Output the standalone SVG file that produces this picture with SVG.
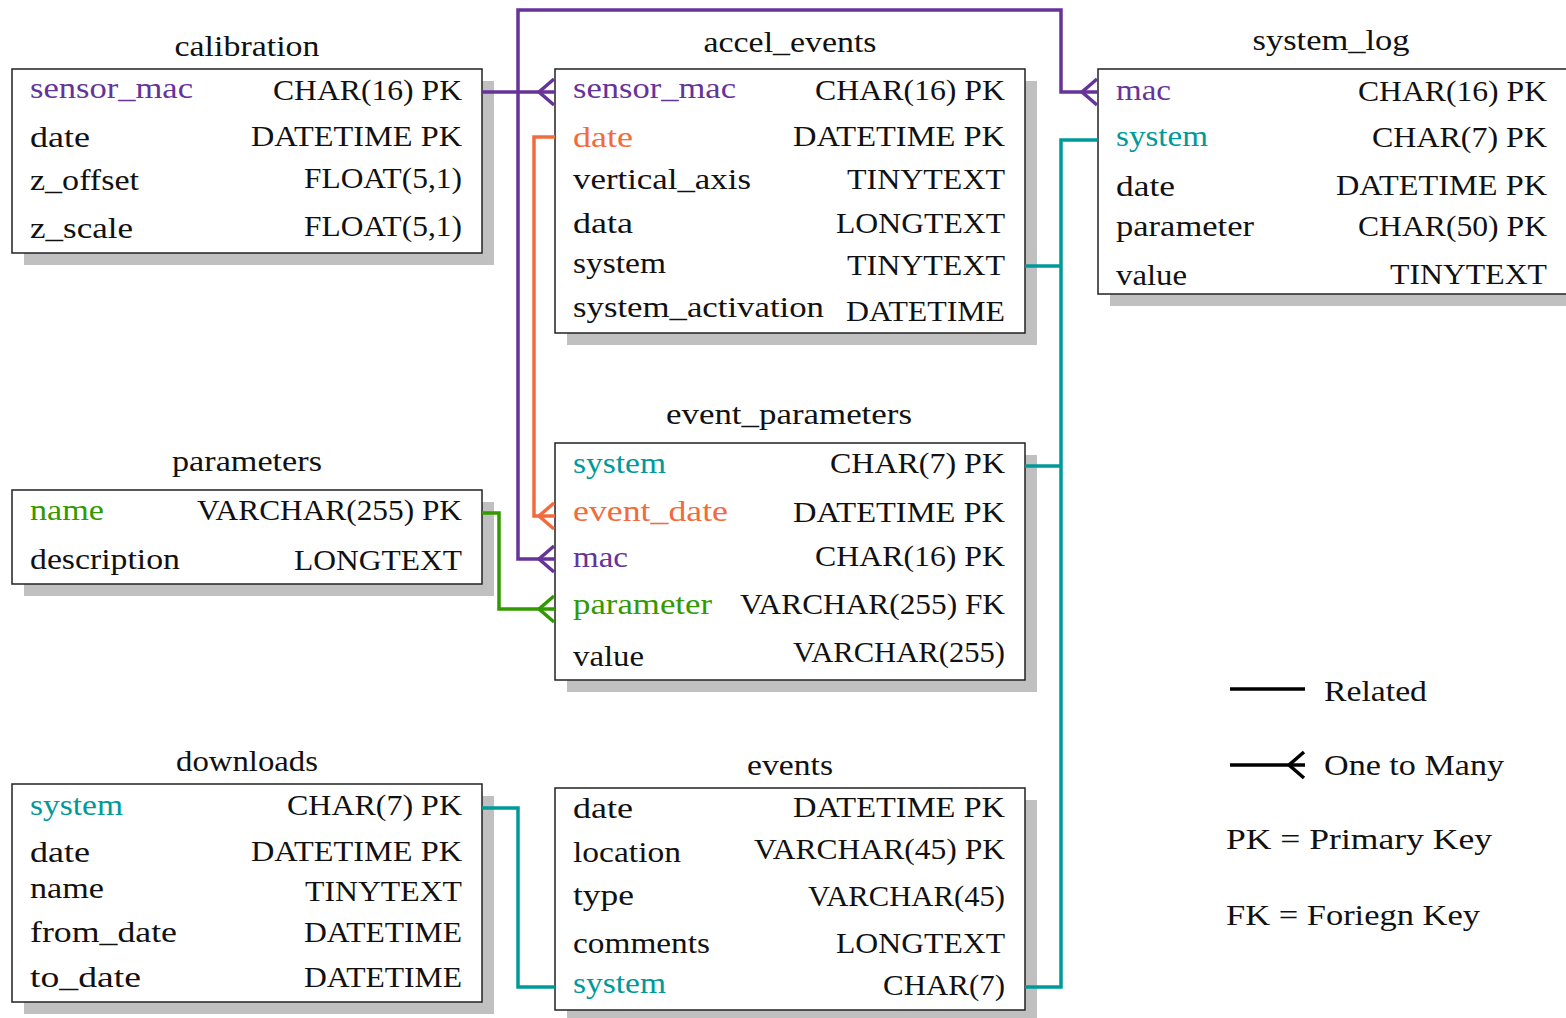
<svg xmlns="http://www.w3.org/2000/svg" width="1566" height="1018" viewBox="0 0 1566 1018">
<style>
text{font-family:"Liberation Serif","DejaVu Serif",serif;font-size:30px;fill:#111}
.e{text-anchor:end}
.m{text-anchor:middle}
.shadow{fill:#c0c0c0}
.box{fill:#fff;stroke:#222;stroke-width:1.5}
.pu{fill:#663399}.or{fill:#f26b3d}.gr{fill:#339900}.te{fill:#009999}
.c{fill:none;stroke-width:3.5;stroke-linejoin:miter}
.cpu{stroke:#663399}.cor{stroke:#f26b3d}.cgr{stroke:#339900}.cte{stroke:#009999}
</style>
<defs>
<marker id="cfpu" markerUnits="userSpaceOnUse" viewBox="-18 -15 20 30" markerWidth="20" markerHeight="30" refX="0" refY="0" orient="auto" overflow="visible"><path d="M-1,-13 L-16,0 L-1,13" fill="none" stroke="#663399" stroke-width="3.5"/></marker>
<marker id="cfor" markerUnits="userSpaceOnUse" viewBox="-18 -15 20 30" markerWidth="20" markerHeight="30" refX="0" refY="0" orient="auto" overflow="visible"><path d="M-1,-13 L-16,0 L-1,13" fill="none" stroke="#f26b3d" stroke-width="3.5"/></marker>
<marker id="cfgr" markerUnits="userSpaceOnUse" viewBox="-18 -15 20 30" markerWidth="20" markerHeight="30" refX="0" refY="0" orient="auto" overflow="visible"><path d="M-1,-13 L-16,0 L-1,13" fill="none" stroke="#339900" stroke-width="3.5"/></marker>
<marker id="cfbk" markerUnits="userSpaceOnUse" viewBox="-18 -15 20 30" markerWidth="20" markerHeight="30" refX="0" refY="0" orient="auto" overflow="visible"><path d="M-1,-13 L-16,0 L-1,13" fill="none" stroke="#000" stroke-width="3.5"/></marker>
</defs>

<g id="calibration">
<rect class="shadow" x="24" y="81" width="470" height="184"/>
<rect class="box" x="12" y="69" width="470" height="184"/>
<text class="m" x="247" y="56" textLength="145" lengthAdjust="spacingAndGlyphs">calibration</text>
<text class="pu" x="30" y="98" textLength="163" lengthAdjust="spacingAndGlyphs">sensor_mac</text>
<text class="e" x="462" y="100" textLength="189" lengthAdjust="spacingAndGlyphs">CHAR(16) PK</text>
<text x="30" y="147" textLength="60" lengthAdjust="spacingAndGlyphs">date</text>
<text class="e" x="462" y="146" textLength="211" lengthAdjust="spacingAndGlyphs">DATETIME PK</text>
<text x="30" y="190" textLength="109" lengthAdjust="spacingAndGlyphs">z_offset</text>
<text class="e" x="462" y="188" textLength="158" lengthAdjust="spacingAndGlyphs">FLOAT(5,1)</text>
<text x="30" y="238" textLength="103" lengthAdjust="spacingAndGlyphs">z_scale</text>
<text class="e" x="462" y="236" textLength="158" lengthAdjust="spacingAndGlyphs">FLOAT(5,1)</text>
</g>

<g id="accel_events">
<rect class="shadow" x="567" y="81" width="470" height="264"/>
<rect class="box" x="555" y="69" width="470" height="264"/>
<text class="m" x="790" y="52" textLength="173" lengthAdjust="spacingAndGlyphs">accel_events</text>
<text class="pu" x="573" y="98" textLength="163" lengthAdjust="spacingAndGlyphs">sensor_mac</text>
<text class="e" x="1005" y="100" textLength="190" lengthAdjust="spacingAndGlyphs">CHAR(16) PK</text>
<text class="or" x="573" y="147" textLength="60" lengthAdjust="spacingAndGlyphs">date</text>
<text class="e" x="1005" y="146" textLength="212" lengthAdjust="spacingAndGlyphs">DATETIME PK</text>
<text x="573" y="189" textLength="178" lengthAdjust="spacingAndGlyphs">vertical_axis</text>
<text class="e" x="1005" y="189" textLength="158" lengthAdjust="spacingAndGlyphs">TINYTEXT</text>
<text x="573" y="233" textLength="60" lengthAdjust="spacingAndGlyphs">data</text>
<text class="e" x="1005" y="233" textLength="169" lengthAdjust="spacingAndGlyphs">LONGTEXT</text>
<text x="573" y="273" textLength="93" lengthAdjust="spacingAndGlyphs">system</text>
<text class="e" x="1005" y="275" textLength="158" lengthAdjust="spacingAndGlyphs">TINYTEXT</text>
<text x="573" y="317" textLength="251" lengthAdjust="spacingAndGlyphs">system_activation</text>
<text class="e" x="1005" y="321" textLength="159" lengthAdjust="spacingAndGlyphs">DATETIME</text>
</g>

<g id="system_log">
<rect class="shadow" x="1110" y="81" width="470" height="225"/>
<rect class="box" x="1098" y="69" width="470" height="225"/>
<text class="m" x="1331" y="50" textLength="157" lengthAdjust="spacingAndGlyphs">system_log</text>
<text class="pu" x="1116" y="100" textLength="55" lengthAdjust="spacingAndGlyphs">mac</text>
<text class="e" x="1547" y="101" textLength="189" lengthAdjust="spacingAndGlyphs">CHAR(16) PK</text>
<text class="te" x="1116" y="146" textLength="92" lengthAdjust="spacingAndGlyphs">system</text>
<text class="e" x="1547" y="147" textLength="175" lengthAdjust="spacingAndGlyphs">CHAR(7) PK</text>
<text x="1116" y="196" textLength="59" lengthAdjust="spacingAndGlyphs">date</text>
<text class="e" x="1547" y="195" textLength="211" lengthAdjust="spacingAndGlyphs">DATETIME PK</text>
<text x="1116" y="236" textLength="138" lengthAdjust="spacingAndGlyphs">parameter</text>
<text class="e" x="1547" y="236" textLength="189" lengthAdjust="spacingAndGlyphs">CHAR(50) PK</text>
<text x="1116" y="285" textLength="71" lengthAdjust="spacingAndGlyphs">value</text>
<text class="e" x="1547" y="284" textLength="157" lengthAdjust="spacingAndGlyphs">TINYTEXT</text>
</g>

<g id="parameters">
<rect class="shadow" x="24" y="502" width="470" height="94"/>
<rect class="box" x="12" y="490" width="470" height="94"/>
<text class="m" x="247" y="471" textLength="150" lengthAdjust="spacingAndGlyphs">parameters</text>
<text class="gr" x="30" y="520" textLength="74" lengthAdjust="spacingAndGlyphs">name</text>
<text class="e" x="462" y="520" textLength="265" lengthAdjust="spacingAndGlyphs">VARCHAR(255) PK</text>
<text x="30" y="569" textLength="150" lengthAdjust="spacingAndGlyphs">description</text>
<text class="e" x="462" y="570" textLength="168" lengthAdjust="spacingAndGlyphs">LONGTEXT</text>
</g>

<g id="event_parameters">
<rect class="shadow" x="567" y="455" width="470" height="237"/>
<rect class="box" x="555" y="443" width="470" height="237"/>
<text class="m" x="789" y="424" textLength="246" lengthAdjust="spacingAndGlyphs">event_parameters</text>
<text class="te" x="573" y="473" textLength="93" lengthAdjust="spacingAndGlyphs">system</text>
<text class="e" x="1005" y="473" textLength="175" lengthAdjust="spacingAndGlyphs">CHAR(7) PK</text>
<text class="or" x="573" y="521" textLength="155" lengthAdjust="spacingAndGlyphs">event_date</text>
<text class="e" x="1005" y="522" textLength="212" lengthAdjust="spacingAndGlyphs">DATETIME PK</text>
<text class="pu" x="573" y="567" textLength="55" lengthAdjust="spacingAndGlyphs">mac</text>
<text class="e" x="1005" y="566" textLength="190" lengthAdjust="spacingAndGlyphs">CHAR(16) PK</text>
<text class="gr" x="573" y="614" textLength="139" lengthAdjust="spacingAndGlyphs">parameter</text>
<text class="e" x="1005" y="614" textLength="265" lengthAdjust="spacingAndGlyphs">VARCHAR(255) FK</text>
<text x="573" y="666" textLength="71" lengthAdjust="spacingAndGlyphs">value</text>
<text class="e" x="1005" y="662" textLength="212" lengthAdjust="spacingAndGlyphs">VARCHAR(255)</text>
</g>

<g id="downloads">
<rect class="shadow" x="24" y="796" width="470" height="218"/>
<rect class="box" x="12" y="784" width="470" height="218"/>
<text class="m" x="247" y="771" textLength="142" lengthAdjust="spacingAndGlyphs">downloads</text>
<text class="te" x="30" y="815" textLength="93" lengthAdjust="spacingAndGlyphs">system</text>
<text class="e" x="462" y="815" textLength="175" lengthAdjust="spacingAndGlyphs">CHAR(7) PK</text>
<text x="30" y="862" textLength="60" lengthAdjust="spacingAndGlyphs">date</text>
<text class="e" x="462" y="861" textLength="211" lengthAdjust="spacingAndGlyphs">DATETIME PK</text>
<text x="30" y="898" textLength="74" lengthAdjust="spacingAndGlyphs">name</text>
<text class="e" x="462" y="901" textLength="157" lengthAdjust="spacingAndGlyphs">TINYTEXT</text>
<text x="30" y="942" textLength="147" lengthAdjust="spacingAndGlyphs">from_date</text>
<text class="e" x="462" y="942" textLength="158" lengthAdjust="spacingAndGlyphs">DATETIME</text>
<text x="30" y="987" textLength="111" lengthAdjust="spacingAndGlyphs">to_date</text>
<text class="e" x="462" y="987" textLength="158" lengthAdjust="spacingAndGlyphs">DATETIME</text>
</g>

<g id="events">
<rect class="shadow" x="567" y="800" width="470" height="222"/>
<rect class="box" x="555" y="788" width="470" height="222"/>
<text class="m" x="790" y="775" textLength="86" lengthAdjust="spacingAndGlyphs">events</text>
<text x="573" y="818" textLength="60" lengthAdjust="spacingAndGlyphs">date</text>
<text class="e" x="1005" y="817" textLength="212" lengthAdjust="spacingAndGlyphs">DATETIME PK</text>
<text x="573" y="862" textLength="108" lengthAdjust="spacingAndGlyphs">location</text>
<text class="e" x="1005" y="859" textLength="251" lengthAdjust="spacingAndGlyphs">VARCHAR(45) PK</text>
<text x="573" y="905" textLength="61" lengthAdjust="spacingAndGlyphs">type</text>
<text class="e" x="1005" y="906" textLength="197" lengthAdjust="spacingAndGlyphs">VARCHAR(45)</text>
<text x="573" y="953" textLength="137" lengthAdjust="spacingAndGlyphs">comments</text>
<text class="e" x="1005" y="953" textLength="169" lengthAdjust="spacingAndGlyphs">LONGTEXT</text>
<text class="te" x="573" y="993" textLength="93" lengthAdjust="spacingAndGlyphs">system</text>
<text class="e" x="1005" y="995" textLength="122" lengthAdjust="spacingAndGlyphs">CHAR(7)</text>
</g>

<g id="connectors">
<path class="c cpu" d="M482,92 H555" marker-end="url(#cfpu)"/>
<path class="c cpu" d="M518,92 V10 H1061 V92 H1098" marker-end="url(#cfpu)"/>
<path class="c cpu" d="M518,92 V559 H555" marker-end="url(#cfpu)"/>
<path class="c cor" d="M555,137 H534 V516 H555" marker-end="url(#cfor)"/>
<path class="c cgr" d="M482,513 H499 V609 H555" marker-end="url(#cfgr)"/>
<path class="c cte" d="M1098,140 H1061 V987 H1025"/>
<path class="c cte" d="M1025,266 H1061"/>
<path class="c cte" d="M1025,466 H1061"/>
<path class="c cte" d="M482,808 H518 V987 H555"/>
</g>

<g id="legend">
<path d="M1230,689 H1305" fill="none" stroke="#000" stroke-width="3.5"/>
<text x="1324" y="701" textLength="103" lengthAdjust="spacingAndGlyphs">Related</text>
<path d="M1230,765 H1305" fill="none" stroke="#000" stroke-width="3.5" marker-end="url(#cfbk)"/>
<text x="1324" y="775" textLength="180" lengthAdjust="spacingAndGlyphs">One to Many</text>
<text x="1226" y="849" textLength="266" lengthAdjust="spacingAndGlyphs">PK = Primary Key</text>
<text x="1226" y="925" textLength="254" lengthAdjust="spacingAndGlyphs">FK = Foriegn Key</text>
</g>
</svg>
